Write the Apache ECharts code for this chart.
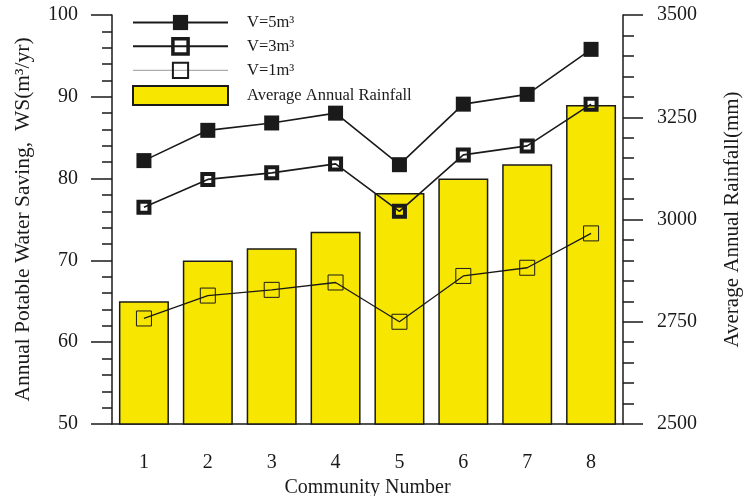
<!DOCTYPE html>
<html>
<head>
<meta charset="utf-8">
<script src="https://cdn.jsdelivr.net/npm/echarts@6/dist/echarts.min.js"></script>
<style>html,body{margin:0;padding:0;background:#fff;}#c{width:744px;height:496px;}</style>
</head>
<body>
<div id="c"></div>
<script>
const categories = ['1', '2', '3', '4', '5', '6', '7', '8'];
const v5 = [82.2, 85.9, 86.8, 88.0, 81.7, 89.1, 90.3, 95.8];
const v3 = [76.5, 79.9, 80.7, 81.8, 76.0, 82.9, 84.0, 89.1];
const v1 = [62.9, 65.7, 66.4, 67.3, 62.5, 68.1, 69.1, 73.3];
const rainfall = [2800, 2900, 2930, 2970, 3065, 3100, 3135, 3280];
const seriesNames = ['V=5m³', 'V=3m³', 'V=1m³', 'Average Annual Rainfall'];

const FONT = "'Liberation Serif', 'Times New Roman', serif";
const INK = '#1a1a1a';

const chart = echarts.init(document.getElementById('c'), null, {renderer: 'canvas'});
chart.setOption({
  animation: false,
  backgroundColor: '#fff',
  grid: {left: 112, right: 121, top: 15, bottom: 72, containLabel: false, outerBoundsMode: 'none'},
  legend: {
    orient: 'vertical',
    left: 132,
    top: 14,
    padding: 0,
    itemWidth: 95,
    itemHeight: 19,
    itemGap: 6,
    textStyle: {fontFamily: FONT, fontSize: 16.5, color: INK, padding: [0, 0, 0, 14]},
    data: [
      {name: seriesNames[0]},
      {name: seriesNames[1], itemStyle: {borderWidth: 3.5}},
      {name: seriesNames[2], lineStyle: {color: '#999', width: 1}},
      {name: seriesNames[3], icon: 'rect'}
    ]
  },
  xAxis: {
    type: 'category',
    data: categories,
    boundaryGap: true,
    name: 'Community Number',
    nameLocation: 'middle',
    nameGap: 49,
    nameTextStyle: {fontFamily: FONT, fontSize: 20, color: INK},
    axisLine: {lineStyle: {color: INK, width: 1.5}},
    axisTick: {alignWithLabel: true, length: 10, lineStyle: {color: INK, width: 1.5}},
    axisLabel: {fontFamily: FONT, fontSize: 20, color: INK, margin: 29},
    splitLine: {show: false}
  },
  yAxis: [
    {
      type: 'value',
      min: 50, max: 100, interval: 10,
      position: 'left',
      name: 'Annual Potable Water Saving,  WS(m³/yr)',
      nameLocation: 'middle',
      nameRotate: 90,
      nameGap: 78,
      nameTextStyle: {fontFamily: FONT, fontSize: 21.5, color: INK},
      axisLine: {show: true, lineStyle: {color: INK, width: 1.5}},
      axisTick: {show: true, inside: false, length: 21, lineStyle: {color: INK, width: 1.5}},
      minorTick: {show: true, splitNumber: 5, length: 10, lineStyle: {color: INK, width: 1.5}},
      axisLabel: {fontFamily: FONT, fontSize: 20, color: INK, margin: 34},
      splitLine: {show: false}
    },
    {
      type: 'value',
      min: 2500, max: 3500, interval: 250,
      position: 'right',
      name: 'Average Annual Rainfall(mm)',
      nameLocation: 'middle',
      nameRotate: 90,
      nameGap: 99,
      nameTextStyle: {fontFamily: FONT, fontSize: 21, color: INK},
      axisLine: {show: true, lineStyle: {color: INK, width: 1.5}},
      axisTick: {show: true, inside: false, length: 20, lineStyle: {color: INK, width: 1.5}},
      minorTick: {show: true, splitNumber: 5, length: 11, lineStyle: {color: INK, width: 1.5}},
      axisLabel: {fontFamily: FONT, fontSize: 20, color: INK, margin: 34, formatter: function (v) { return String(v); }},
      splitLine: {show: false}
    }
  ],
  series: [
    {
      name: seriesNames[3],
      type: 'bar',
      yAxisIndex: 1,
      data: rainfall,
      barWidth: 50,
      itemStyle: {color: '#f7e600', borderColor: INK, borderWidth: 1.5},
      z: 1
    },
    {
      name: seriesNames[0],
      type: 'line',
      yAxisIndex: 0,
      data: v5,
      symbol: 'rect',
      symbolSize: 15,
      lineStyle: {color: INK, width: 1.6},
      itemStyle: {color: INK, borderColor: INK, borderWidth: 0},
      z: 3
    },
    {
      name: seriesNames[1],
      type: 'line',
      yAxisIndex: 0,
      data: v3,
      symbol: 'rect',
      symbolSize: 11,
      lineStyle: {color: INK, width: 1.6},
      itemStyle: {color: 'rgba(255,255,255,0)', borderColor: INK, borderWidth: 4},
      z: 3
    },
    {
      name: seriesNames[2],
      type: 'line',
      yAxisIndex: 0,
      data: v1,
      symbol: 'rect',
      symbolSize: 15,
      lineStyle: {color: INK, width: 1.3},
      itemStyle: {color: 'rgba(255,255,255,0)', borderColor: INK, borderWidth: 1},
      z: 3
    }
  ]
});
</script>
</body>
</html>
